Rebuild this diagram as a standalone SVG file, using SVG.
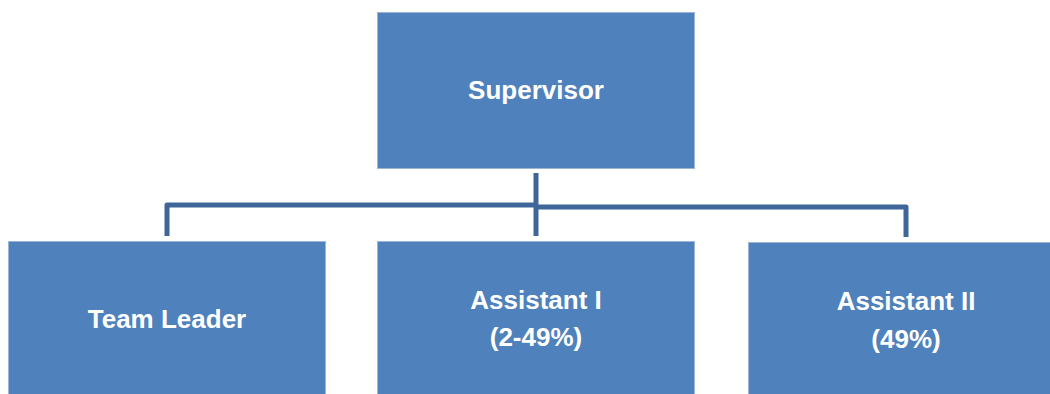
<svg xmlns="http://www.w3.org/2000/svg" width="1050" height="394" viewBox="0 0 1050 394">
  <style>
    .box { fill: #4F81BD; stroke: #9DB6D8; stroke-width: 1; }
    .lbl { font-family: "Liberation Sans", Arial, sans-serif; font-weight: bold; font-size: 26px; fill: #FFFFFF; text-anchor: middle; }
    .conn { fill: none; stroke: #3E6699; stroke-width: 5; stroke-linejoin: round; }
  </style>
  <rect width="1050" height="394" fill="#FFFFFF"/>
  <g id="connectors">
    <path class="conn" d="M536,205 H167 V236"/>
    <path class="conn" d="M536,207 H906 V237"/>
    <path class="conn" d="M536,173 V236"/>
  </g>
  <g id="supervisor">
    <rect class="box" x="377.5" y="12.5" width="317" height="156"/>
    <text class="lbl" x="536" y="99">Supervisor</text>
  </g>
  <g id="team-leader">
    <rect class="box" x="8.5" y="241.5" width="317" height="156"/>
    <text class="lbl" x="167" y="328">Team Leader</text>
  </g>
  <g id="assistant-1">
    <rect class="box" x="377.5" y="241.5" width="317" height="156"/>
    <text class="lbl" x="536" y="309">Assistant I</text>
    <text class="lbl" x="536" y="346">(2-49%)</text>
  </g>
  <g id="assistant-2">
    <rect class="box" x="748.5" y="242.5" width="317" height="156"/>
    <text class="lbl" x="906" y="310">Assistant II</text>
    <text class="lbl" x="906" y="348">(49%)</text>
  </g>
</svg>
